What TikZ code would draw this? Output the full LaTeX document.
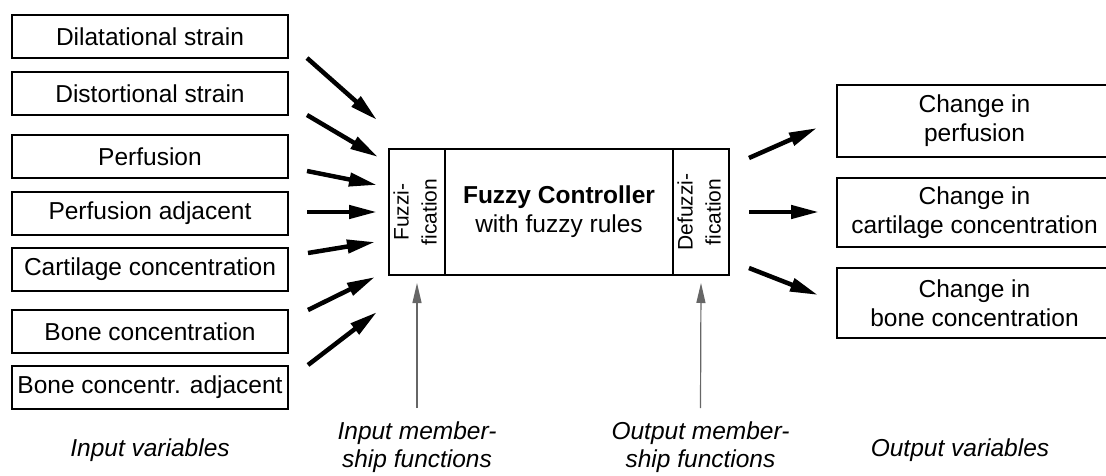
\documentclass[tikz,border=0pt]{standalone}
\usepackage{fontspec}
\setmainfont{Liberation Sans}
\usetikzlibrary{arrows.meta,positioning,calc}

\begin{document}
\begin{tikzpicture}[
      x=1pt, y=-1pt,
      font=\fontsize{24.5}{29}\selectfont,
      box/.style={draw, line width=1.6pt, align=center, inner sep=2pt,
                  outer sep=0pt},
      invar/.style={box, minimum width=276pt, minimum height=43pt},
      outvar/.style={box, minimum width=275pt},
      cell/.style={draw, line width=2pt, align=center, inner sep=0pt,
                   outer sep=0pt, minimum height=126pt},
      fat/.style={-{Triangle[length=28pt,width=13pt]}, line width=4.5pt},
      mfarr/.style={-{Triangle[length=20pt,width=9pt]}, line width=1.2pt,
                    black!60},
      lbl/.style={font=\fontsize{24.5}{28}\selectfont\itshape, align=center}
    ]
    \useasboundingbox (0,0) rectangle (1106,476);

    % input variables
    \node[invar] (dil) at (150,36.5) {Dilatational strain};
    \node[invar, below=14pt of dil] (dis) {Distortional strain};
    \node[invar, below=20pt of dis] (perf) {Perfusion};
    \node[invar, below=14pt of perf] (padj) {Perfusion adjacent};
    \node[invar, below=13pt of padj] (cart) {Cartilage concentration};
    \node[invar, below=19pt of cart] (bone) {Bone concentration};
    \node[invar, below=13pt of bone] (badj) {Bone concentr. adjacent};

    % controller
    \node[cell, minimum width=56pt] (fuz) at (417,212)
      {\rotatebox{90}{\fontsize{21}{28}\selectfont
       \begin{tabular}{@{}c@{}}Fuzzi-\\fication\end{tabular}}};
    \node[cell, minimum width=228pt, right=0pt of fuz] (core)
      {\textbf{Fuzzy Controller}\\with fuzzy rules};
    \node[cell, minimum width=55pt, right=0pt of core] (defuz)
      {\rotatebox{90}{\fontsize{21}{28}\selectfont
       \begin{tabular}{@{}c@{}}Defuzzi-\\fication\end{tabular}}};

    % output variables
    \node[outvar, minimum height=72pt] (pchg) at (974.5,121)
      {Change in\\perfusion};
    \node[outvar, minimum height=69pt] (cchg) at (974.5,212.5)
      {Change in\\cartilage concentration};
    \node[outvar, minimum height=70pt] (bchg) at (974.5,303)
      {Change in\\bone concentration};

    \draw[fat] ($(dil.south east)+(19,0)$) -- ($(fuz.west)+(-12,-92)$);
    \draw[fat] ($(dis.south east)+(19,0)$) -- ($(fuz.west)+(-11,-55)$);
    \draw[fat] ($(perf.south east)+(19,-7)$) -- ($(fuz.west)+(-12,-27)$);
    \draw[fat] ($(padj.east)+(19,-1.5)$) -- ($(fuz.west)+(-12,0)$);
    \draw[fat] ($(cart.north east)+(20,5)$) -- ($(fuz.west)+(-14,30)$);
    \draw[fat] ($(bone.north east)+(20,0)$) -- ($(fuz.west)+(-14,65)$);
    \draw[fat] ($(badj.north east)+(20,-1)$) -- ($(fuz.west)+(-12,100)$);

    \draw[fat] ($(defuz.east)+(20,-54)$) -- ($(pchg.west)+(-20,7)$);
    \draw[fat] ($(defuz.east)+(20,0)$) -- ($(cchg.west)+(-18,-0.5)$);
    \draw[fat] ($(defuz.east)+(20,56)$) -- ($(bchg.west)+(-19,-8)$);

    % captions
    \node[lbl] (invars) at (150,450) {Input variables};
    \node[lbl] (mfin) at (417,447) {Input member-\\ship functions};
    \node[lbl] (mfout) at (700.5,447) {Output member-\\ship functions};
    \node[lbl] (outvars) at (960,450) {Output variables};

    \draw[mfarr] ($(mfin.north)+(0,-10)$) -- ($(fuz.south)+(0,8)$);
    \draw[mfarr] ($(mfout.north)+(0,-10)$) -- ($(defuz.south)+(0,8)$);
  \end{tikzpicture}
\end{document}
